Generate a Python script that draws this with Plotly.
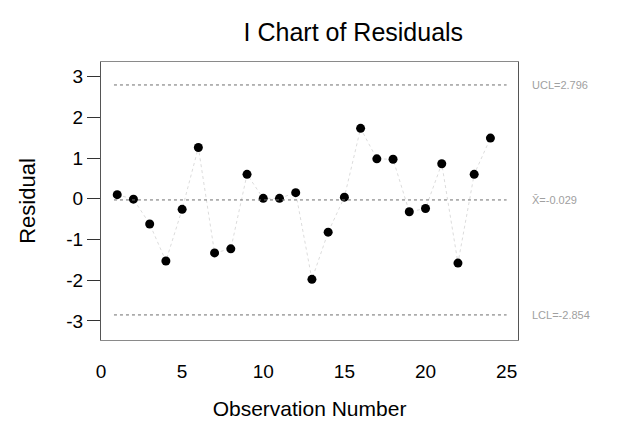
import plotly.graph_objects as go

# Individuals chart of regression residuals
observation = list(range(1, 25))
residual = [0.10, -0.01, -0.62, -1.53, -0.26, 1.26, -1.33, -1.23, 0.60, 0.01,
            0.01, 0.15, -1.98, -0.82, 0.04, 1.73, 0.98, 0.97, -0.32, -0.24,
            0.86, -1.58, 0.60, 1.49]

# Control limits
ucl = 2.796
center = -0.029
lcl = -2.854

x_ticks = [0, 5, 10, 15, 20, 25]
y_ticks = [3, 2, 1, 0, -1, -2, -3]
y_tick_text = ["3", "2", "1", "0", "-1", "-2", "-3"]

fig = go.Figure()

# Control lines
for level in (ucl, center, lcl):
    fig.add_shape(type="line", xref="x", yref="y", x0=0.8, x1=25.0,
                  y0=level, y1=level,
                  line=dict(color="#6e6e6e", width=1, dash="dot"))

fig.add_trace(go.Scatter(
    x=observation, y=residual, mode="lines+markers",
    line=dict(color="rgba(0,0,0,0.14)", width=1, dash="dot"),
    marker=dict(color="black", size=9, symbol="circle"),
    showlegend=False,
))

label_font = dict(family="Liberation Sans, Arial, sans-serif", size=11, color="#a0a0a0")
for text, level in ((f"UCL={ucl:.3f}", ucl),
                    (f"X\u0304={center:.3f}", center),
                    (f"LCL={lcl:.3f}", lcl)):
    fig.add_annotation(xref="paper", yref="y", x=1.0, y=level, xshift=12,
                       text=text, showarrow=False, xanchor="left",
                       yanchor="middle", font=label_font)

font_main = "Liberation Sans, Arial, sans-serif"
fig.update_layout(
    width=631, height=430,
    margin=dict(l=101, r=113, t=62, b=90),
    paper_bgcolor="white", plot_bgcolor="white",
    title=dict(text="I Chart of Residuals", x=0.56, xanchor="center",
               y=0.925, yanchor="middle",
               font=dict(family=font_main, size=25, color="black")),
    xaxis=dict(range=[0, 25.7], tickvals=x_ticks, ticks="", showgrid=False,
               zeroline=False, showline=True, mirror=True, linecolor="#8a8a8a",
               linewidth=1, ticklabelstandoff=14,
               tickfont=dict(family=font_main, size=19, color="black"),
               title=dict(text="Observation Number", standoff=20,
                          font=dict(family=font_main, size=21, color="black"))),
    yaxis=dict(range=[-3.47, 3.36], tickvals=y_ticks, ticktext=y_tick_text,
               ticks="outside", ticklen=13, tickcolor="#333", showgrid=False,
               zeroline=False, showline=True, mirror=True, linecolor="#555",
               linewidth=1,
               tickfont=dict(family=font_main, size=19, color="black"),
               title=dict(text="Residual", standoff=24,
                          font=dict(family=font_main, size=22, color="black"))),
)

fig.write_html("out.html")
